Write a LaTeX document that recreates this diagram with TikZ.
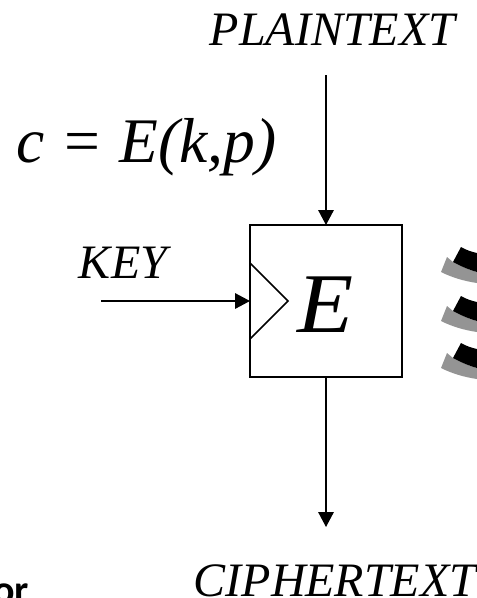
\documentclass[tikz,border=0pt]{standalone}
\usepackage{fontspec}
\setmainfont{Liberation Serif}
\newfontfamily\barefont{Carlito}
\usetikzlibrary{arrows.meta}
\tikzset{
  lab/.style={inner sep=0pt,anchor=base,font=\itshape\fontsize{#1}{#1}\selectfont},
  link/.style={draw=black,line width=1.6pt,-{Triangle[length=15pt,width=15.5pt]}},
  blockbox/.style={draw=black,line width=1.8pt,minimum width=152pt,minimum height=152pt,inner sep=0pt,outer sep=0pt}
}
\newcommand{\arcs}[1]{%
  \begin{scope}[yshift=-#1pt]
    \fill[black!42] (447,257) -- (453,262) .. controls (462,267) and (470,270) .. (477,272) -- (477,283) .. controls (463,281) and (451,277) .. (441,272) -- cycle;
    \fill[black] (461,247) .. controls (466,250) and (472,252) .. (477,253) -- (477,272) .. controls (470,270) and (462,267) .. (453,262) -- cycle;
  \end{scope}}
\begin{document}
\begin{tikzpicture}[x=1pt,y=-1pt]
\useasboundingbox (0,0) rectangle (477,598);
\clip (0,0) rectangle (477,598);
\fill[white] (0,0) rectangle (477,598);
\node[blockbox] (blk) at (326,301) {};
\coordinate (ptop) at (326,75);
\coordinate (kstart) at (101,301);
\coordinate (cend) at (326,527);
\draw[link] (ptop) -- (blk.north);
\draw[link] (kstart) -- (blk.west);
\draw[link] (blk.south) -- (cend);
\coordinate (t1) at (250,263);
\coordinate (t2) at (288,301);
\coordinate (t3) at (250,339);
\draw[line width=1.5pt,line join=miter] (t1) -- (t2) -- (t3);
\node[lab=85,xscale=1.08] (e) at (325.5,332) {E};
\node[lab=48] (pt) at (332.5,45) {PLAINTEXT};
\node[lab=48] (ct) at (335,596) {CIPHERTEXT};
\node[lab=48] (key) at (123,278) {KEY};
\node[lab=63.5] (eq) at (146.5,162) {c = E(k,p)};
\node[anchor=base west,inner sep=0pt,font=\barefont\bfseries\fontsize{40}{40}\selectfont] (orw) at (-7,603) {or};
\arcs{0}
\arcs{49}
\arcs{96}
\end{tikzpicture}
\end{document}
